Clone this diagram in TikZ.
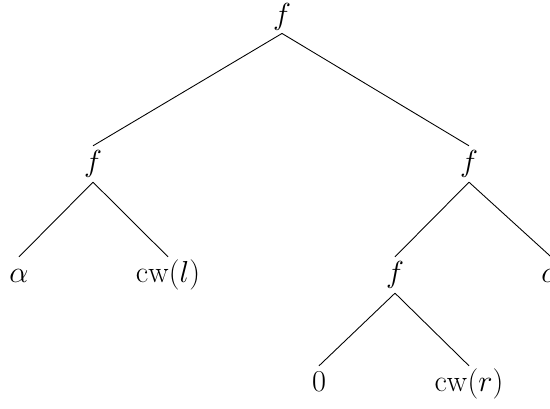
\documentclass[tikz,border=0pt]{standalone}
\usetikzlibrary{positioning}

\begin{document}
\begin{tikzpicture}[lbl/.style={font=\LARGE,inner sep=1.5pt,text height=13pt,text depth=4.3pt},
                    br/.style={line width=0.5pt}]
  \useasboundingbox (0,0) rectangle (11,8.18);
  % tree nodes
  \node[lbl,inner sep=0.8pt] (root) at (5.64,7.85) {$f$};
  \node[lbl] (lf) at (1.86,4.90) {$f$};
  \node[lbl] (rf) at (9.38,4.90) {$f$};
  \node[lbl] (alpha1) at (0.38,2.68) {$\alpha$};
  \node[lbl] (cwl) at (3.36,2.68) {$\mathrm{cw}(l)$};
  \node[lbl] (mf) at (7.90,2.68) {$f$};
  \node[lbl] (alpha2) at (11.02,2.68) {$\alpha$};
  \node[lbl] (zero) at (6.38,0.50) {$0$};
  \node[lbl] (cwr) at (9.38,0.50) {$\mathrm{cw}(r)$};
  % branches
  \draw[br] (root.south) -- (lf.north);
  \draw[br] (root.south) -- (rf.north);
  \draw[br] (lf.south) -- (alpha1.north);
  \draw[br] (lf.south) -- (cwl.north);
  \draw[br] (rf.south) -- (mf.north);
  \draw[br] (rf.south) -- (alpha2.north);
  \draw[br] (mf.south) -- (zero.north);
  \draw[br] (mf.south) -- (cwr.north);
\end{tikzpicture}
\end{document}
